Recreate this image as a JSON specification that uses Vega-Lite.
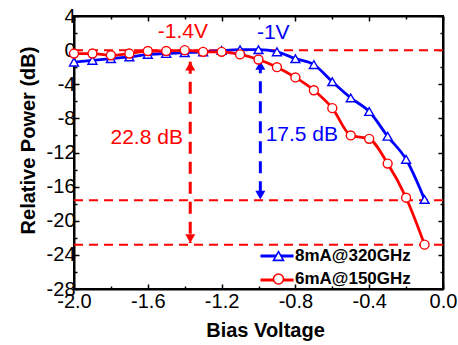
{
  "$schema": "https://vega.github.io/schema/vega-lite/v6.json",
  "width": 369,
  "height": 273,
  "autosize": {"type": "none"},
  "padding": {"left": 74, "top": 16, "right": 15, "bottom": 56},
  "background": "white",
  "config": {
    "font": "Liberation Sans",
    "view": {"stroke": "black", "strokeWidth": 2},
    "axis": {
      "domainColor": "black", "domainWidth": 2, "tickColor": "black", "tickWidth": 1.5,
      "labelColor": "black", "labelFont": "Liberation Sans", "labelFontSize": 20,
      "titleColor": "black", "titleFont": "Liberation Sans", "titleFontSize": 20, "titleFontWeight": "bold",
      "grid": false, "labelFlush": false, "labelOverlap": false
    }
  },
  "datasets": {
    "curves": [
      {"series": "8mA@320GHz", "v": -2.0, "p": -1.4},
      {"series": "8mA@320GHz", "v": -1.9, "p": -1.2},
      {"series": "8mA@320GHz", "v": -1.8, "p": -1.0},
      {"series": "8mA@320GHz", "v": -1.7, "p": -0.8},
      {"series": "8mA@320GHz", "v": -1.6, "p": -0.5},
      {"series": "8mA@320GHz", "v": -1.5, "p": -0.4},
      {"series": "8mA@320GHz", "v": -1.4, "p": -0.3},
      {"series": "8mA@320GHz", "v": -1.3, "p": -0.2},
      {"series": "8mA@320GHz", "v": -1.2, "p": -0.05},
      {"series": "8mA@320GHz", "v": -1.1, "p": 0.05},
      {"series": "8mA@320GHz", "v": -1.0, "p": 0.05},
      {"series": "8mA@320GHz", "v": -0.9, "p": -0.2},
      {"series": "8mA@320GHz", "v": -0.8, "p": -1.0},
      {"series": "8mA@320GHz", "v": -0.7, "p": -1.7},
      {"series": "8mA@320GHz", "v": -0.6, "p": -3.7},
      {"series": "8mA@320GHz", "v": -0.5, "p": -5.6},
      {"series": "8mA@320GHz", "v": -0.4, "p": -7.2},
      {"series": "8mA@320GHz", "v": -0.3, "p": -10.1},
      {"series": "8mA@320GHz", "v": -0.2, "p": -12.8},
      {"series": "8mA@320GHz", "v": -0.1, "p": -17.5},
      {"series": "6mA@150GHz", "v": -2.0, "p": -0.4},
      {"series": "6mA@150GHz", "v": -1.9, "p": -0.4},
      {"series": "6mA@150GHz", "v": -1.8, "p": -0.6},
      {"series": "6mA@150GHz", "v": -1.7, "p": -0.4},
      {"series": "6mA@150GHz", "v": -1.6, "p": -0.1},
      {"series": "6mA@150GHz", "v": -1.5, "p": -0.1},
      {"series": "6mA@150GHz", "v": -1.4, "p": 0.0},
      {"series": "6mA@150GHz", "v": -1.3, "p": -0.2},
      {"series": "6mA@150GHz", "v": -1.2, "p": -0.2},
      {"series": "6mA@150GHz", "v": -1.1, "p": -0.5},
      {"series": "6mA@150GHz", "v": -1.0, "p": -1.1},
      {"series": "6mA@150GHz", "v": -0.9, "p": -2.0},
      {"series": "6mA@150GHz", "v": -0.8, "p": -3.2},
      {"series": "6mA@150GHz", "v": -0.7, "p": -4.7},
      {"series": "6mA@150GHz", "v": -0.6, "p": -6.8},
      {"series": "6mA@150GHz", "v": -0.5, "p": -10.0},
      {"series": "6mA@150GHz", "v": -0.4, "p": -10.4},
      {"series": "6mA@150GHz", "v": -0.3, "p": -13.3},
      {"series": "6mA@150GHz", "v": -0.2, "p": -17.3},
      {"series": "6mA@150GHz", "v": -0.1, "p": -22.8}
    ],
    "levels": [
      {"x1": -2.0, "x2": 0.0, "level": 0.0},
      {"x1": -2.0, "x2": 0.0, "level": -17.6},
      {"x1": -2.0, "x2": 0.0, "level": -22.8}
    ],
    "arrows": [
      {"series": "6mA@150GHz", "x": -1.37, "top": -1.37, "bottom": -22.6},
      {"series": "8mA@320GHz", "x": -0.99, "top": -1.3, "bottom": -17.5}
    ],
    "notes": [
      {"label": "-1.4V", "series": "6mA@150GHz", "x": -1.41, "y": 2.1},
      {"label": "-1V", "series": "8mA@320GHz", "x": -0.92, "y": 2.0},
      {"label": "22.8 dB", "series": "6mA@150GHz", "x": -1.606, "y": -10.25},
      {"label": "17.5 dB", "series": "8mA@320GHz", "x": -0.765, "y": -9.9}
    ]
  },
  "layer": [
    {
      "data": {"name": "levels"},
      "mark": {"type": "rule", "color": "#FF0000", "strokeWidth": 2, "strokeDash": [9, 6]},
      "encoding": {
        "x": {"field": "x1", "type": "quantitative",
          "scale": {"domain": [-2, 0], "nice": false, "zero": false},
          "axis": {"orient": "top", "labels": false, "title": null,
            "values": [-2, -1.8, -1.6, -1.4, -1.2, -1, -0.8, -0.6, -0.4, -0.2, 0],
            "tickSize": {"condition": {"test": "abs(round(datum.value*10))%4==0", "value": -5}, "value": -3}}},
        "x2": {"field": "x2"},
        "y": {"field": "level", "type": "quantitative",
          "scale": {"domain": [-28, 4], "nice": false, "zero": false},
          "axis": {"orient": "right", "labels": false, "title": null,
            "values": [-28, -26, -24, -22, -20, -18, -16, -14, -12, -10, -8, -6, -4, -2, 0, 2, 4],
            "tickSize": {"condition": {"test": "abs(round(datum.value))%4==0", "value": -5}, "value": -3}}}
      }
    },
    {
      "data": {"name": "arrows"},
      "mark": {"type": "rule", "strokeWidth": 3, "strokeDash": [12, 8]},
      "encoding": {
        "x": {"field": "x", "type": "quantitative", "axis": null},
        "y": {"field": "top", "type": "quantitative", "axis": null},
        "y2": {"field": "bottom"},
        "color": {"condition": {"test": "datum.series === '6mA@150GHz'", "value": "#FF0000"}, "value": "#0000FF"}
      }
    },
    {
      "data": {"name": "arrows"},
      "mark": {"type": "point", "filled": true, "opacity": 1, "size": 100, "strokeWidth": 0.5, "shape": "triangle-up", "yOffset": 4.3},
      "encoding": {
        "x": {"field": "x", "type": "quantitative", "axis": null},
        "y": {"field": "top", "type": "quantitative", "axis": null},
        "color": {"condition": {"test": "datum.series === '6mA@150GHz'", "value": "#FF0000"}, "value": "#0000FF"}
      }
    },
    {
      "data": {"name": "arrows"},
      "mark": {"type": "point", "filled": true, "opacity": 1, "size": 100, "strokeWidth": 0.5, "shape": "triangle-down", "yOffset": -4.3},
      "encoding": {
        "x": {"field": "x", "type": "quantitative", "axis": null},
        "y": {"field": "bottom", "type": "quantitative", "axis": null},
        "color": {"condition": {"test": "datum.series === '6mA@150GHz'", "value": "#FF0000"}, "value": "#0000FF"}
      }
    },
    {
      "data": {"name": "curves"},
      "mark": {"type": "line", "interpolate": "monotone", "strokeWidth": 2.8},
      "encoding": {
        "x": {"field": "v", "type": "quantitative",
          "axis": {"orient": "bottom", "title": "Bias Voltage",
            "values": [-2, -1.8, -1.6, -1.4, -1.2, -1, -0.8, -0.6, -0.4, -0.2, 0],
            "labelExpr": "abs(round(datum.value*10))%4==0 ? replace(format(datum.value,'.1f'),'−','-') : ''",
            "tickSize": {"condition": {"test": "abs(round(datum.value*10))%4==0", "value": -5}, "value": -3},
            "labelPadding": 7, "titleX": 191, "titleY": 47, "titleBaseline": "alphabetic"}},
        "y": {"field": "p", "type": "quantitative",
          "axis": {"orient": "left", "title": "Relative Power (dB)",
            "values": [-28, -26, -24, -22, -20, -18, -16, -14, -12, -10, -8, -6, -4, -2, 0, 2, 4],
            "labelExpr": "abs(round(datum.value))%4==0 ? ('' + datum.value) : ''",
            "tickSize": {"condition": {"test": "abs(round(datum.value))%4==0", "value": -5}, "value": -3},
            "labelPadding": 4, "titleX": -46, "titleY": 124, "titleBaseline": "middle"}},
        "color": {"field": "series", "type": "nominal", "title": null,
          "scale": {"domain": ["6mA@150GHz", "8mA@320GHz"], "range": ["#FF0000", "#0000FF"]},
          "legend": {"orient": "none", "legendX": 185, "legendY": 222, "title": null,
            "values": ["8mA@320GHz", "6mA@150GHz"],
            "symbolType": "stroke", "symbolSize": 1089, "symbolStrokeWidth": 2.8,
            "labelExpr": "''", "padding": 0, "rowPadding": -12}}
      }
    },
    {
      "data": {"name": "curves"},
      "mark": {"type": "point", "filled": false, "fill": "white", "opacity": 1, "size": 80, "strokeWidth": 1.4},
      "encoding": {
        "x": {"field": "v", "type": "quantitative", "axis": null},
        "y": {"field": "p", "type": "quantitative", "axis": null},
        "shape": {"field": "series", "type": "nominal", "title": null,
          "scale": {"domain": ["8mA@320GHz", "6mA@150GHz"], "range": ["triangle-up", "circle"]},
          "legend": {"orient": "none", "legendX": 196, "legendY": 231.5, "title": null,
            "labelFont": "Liberation Sans", "labelFontSize": 17, "labelFontWeight": "bold", "labelColor": "black",
            "padding": 0, "rowPadding": 5, "symbolSize": 100, "symbolStrokeWidth": 1.6,
            "symbolFillColor": "white", "labelOffset": 8}},
        "stroke": {"field": "series", "type": "nominal", "title": null,
          "scale": {"domain": ["8mA@320GHz", "6mA@150GHz"], "range": ["#0000FF", "#FF0000"]},
          "legend": {"orient": "none", "legendX": 196, "legendY": 231.5, "title": null,
            "labelFont": "Liberation Sans", "labelFontSize": 17, "labelFontWeight": "bold", "labelColor": "black",
            "padding": 0, "rowPadding": 5, "symbolSize": 100, "symbolStrokeWidth": 1.6,
            "symbolFillColor": "white", "labelOffset": 8}}
      }
    },
    {
      "data": {"name": "notes"},
      "mark": {"type": "text", "font": "Liberation Sans", "fontSize": 21, "align": "center", "baseline": "middle"},
      "encoding": {
        "x": {"field": "x", "type": "quantitative", "axis": null},
        "y": {"field": "y", "type": "quantitative", "axis": null},
        "text": {"field": "label"},
        "color": {"condition": {"test": "datum.series === '6mA@150GHz'", "value": "#FF0000"}, "value": "#0000FF"}
      }
    }
  ],
  "resolve": {"axis": {"x": "independent", "y": "independent"}}
}
